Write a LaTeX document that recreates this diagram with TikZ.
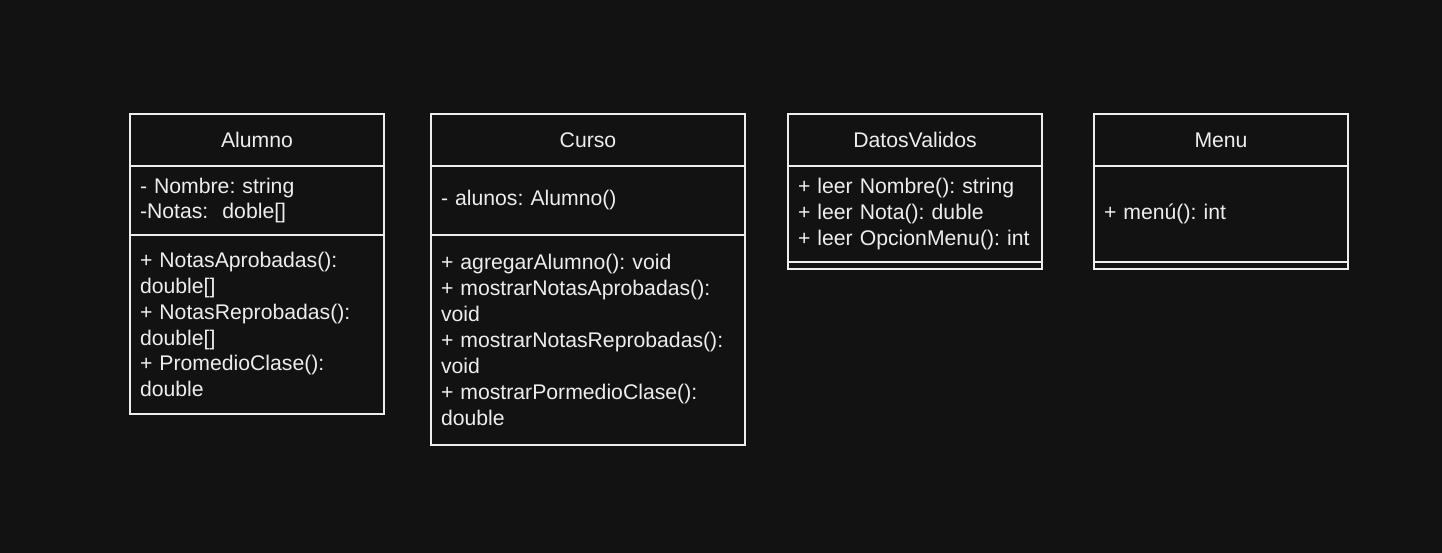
\documentclass[tikz,border=0pt]{standalone}
\usepackage{fontspec}
\setmainfont{Liberation Sans}
\usetikzlibrary{positioning}
\definecolor{fondo}{HTML}{121212}
\definecolor{trazo}{HTML}{EDEDED}
\frenchspacing

\begin{document}
\begin{tikzpicture}[color=trazo, line width=1.6pt, node distance=0pt,
	cabecera/.style={draw, rectangle, outer sep=0pt, inner sep=0pt,
		minimum width=254pt, minimum height=52pt, font=\fontsize{21.2}{25.9}\selectfont},
	seccion/.style={draw, rectangle, outer sep=0pt, inner xsep=10pt, inner ysep=0pt,
		align=left, text width=234pt, font=\fontsize{21.2}{25.9}\selectfont}
	]
	
	\useasboundingbox (0,0) rectangle (1442pt,-553pt);
	\fill[fondo] (0,0) rectangle (1442pt,-553pt);
	
	% Alumno
	\node [cabecera, anchor=north west] (alumno) at (130pt,-114pt) {Alumno};
	\node [seccion, minimum height=69pt, below=of alumno] (alumnoAtr)
		{- Nombre: string\\-Notas:\ \ doble[]};
	\node [seccion, minimum height=179pt, below=of alumnoAtr] (alumnoMet)
		{+ NotasAprobadas():\\double[]\\+ NotasReprobadas():\\double[]\\+ PromedioClase():\\double};
	
	% Curso
	\node [cabecera, minimum width=314pt, right=47pt of alumno] (curso) {Curso};
	\node [seccion, text width=294pt, minimum height=69pt, below=of curso] (cursoAtr)
		{- alunos: Alumno()};
	\node [seccion, text width=294pt, minimum height=210pt, below=of cursoAtr] (cursoMet)
		{+ agregarAlumno(): void\\+ mostrarNotasAprobadas():\\void\\+ mostrarNotasReprobadas():\\void\\+ mostrarPormedioClase():\\double};
	
	% DatosValidos
	\node [cabecera, right=43pt of curso] (datos) {DatosValidos};
	\node [seccion, minimum height=96pt, below=of datos] (datosAtr)
		{+ leer Nombre(): string\\+ leer Nota(): duble\\+ leer OpcionMenu(): int};
	\node [seccion, minimum height=7pt, below=of datosAtr] (datosMet) {};
	
	% Menu
	\node [cabecera, right=52pt of datos] (menu) {Menu};
	\node [seccion, minimum height=96pt, below=of menu] (menuAtr) {+ menú(): int};
	\node [seccion, minimum height=7pt, below=of menuAtr] (menuMet) {};
\end{tikzpicture}
\end{document}
